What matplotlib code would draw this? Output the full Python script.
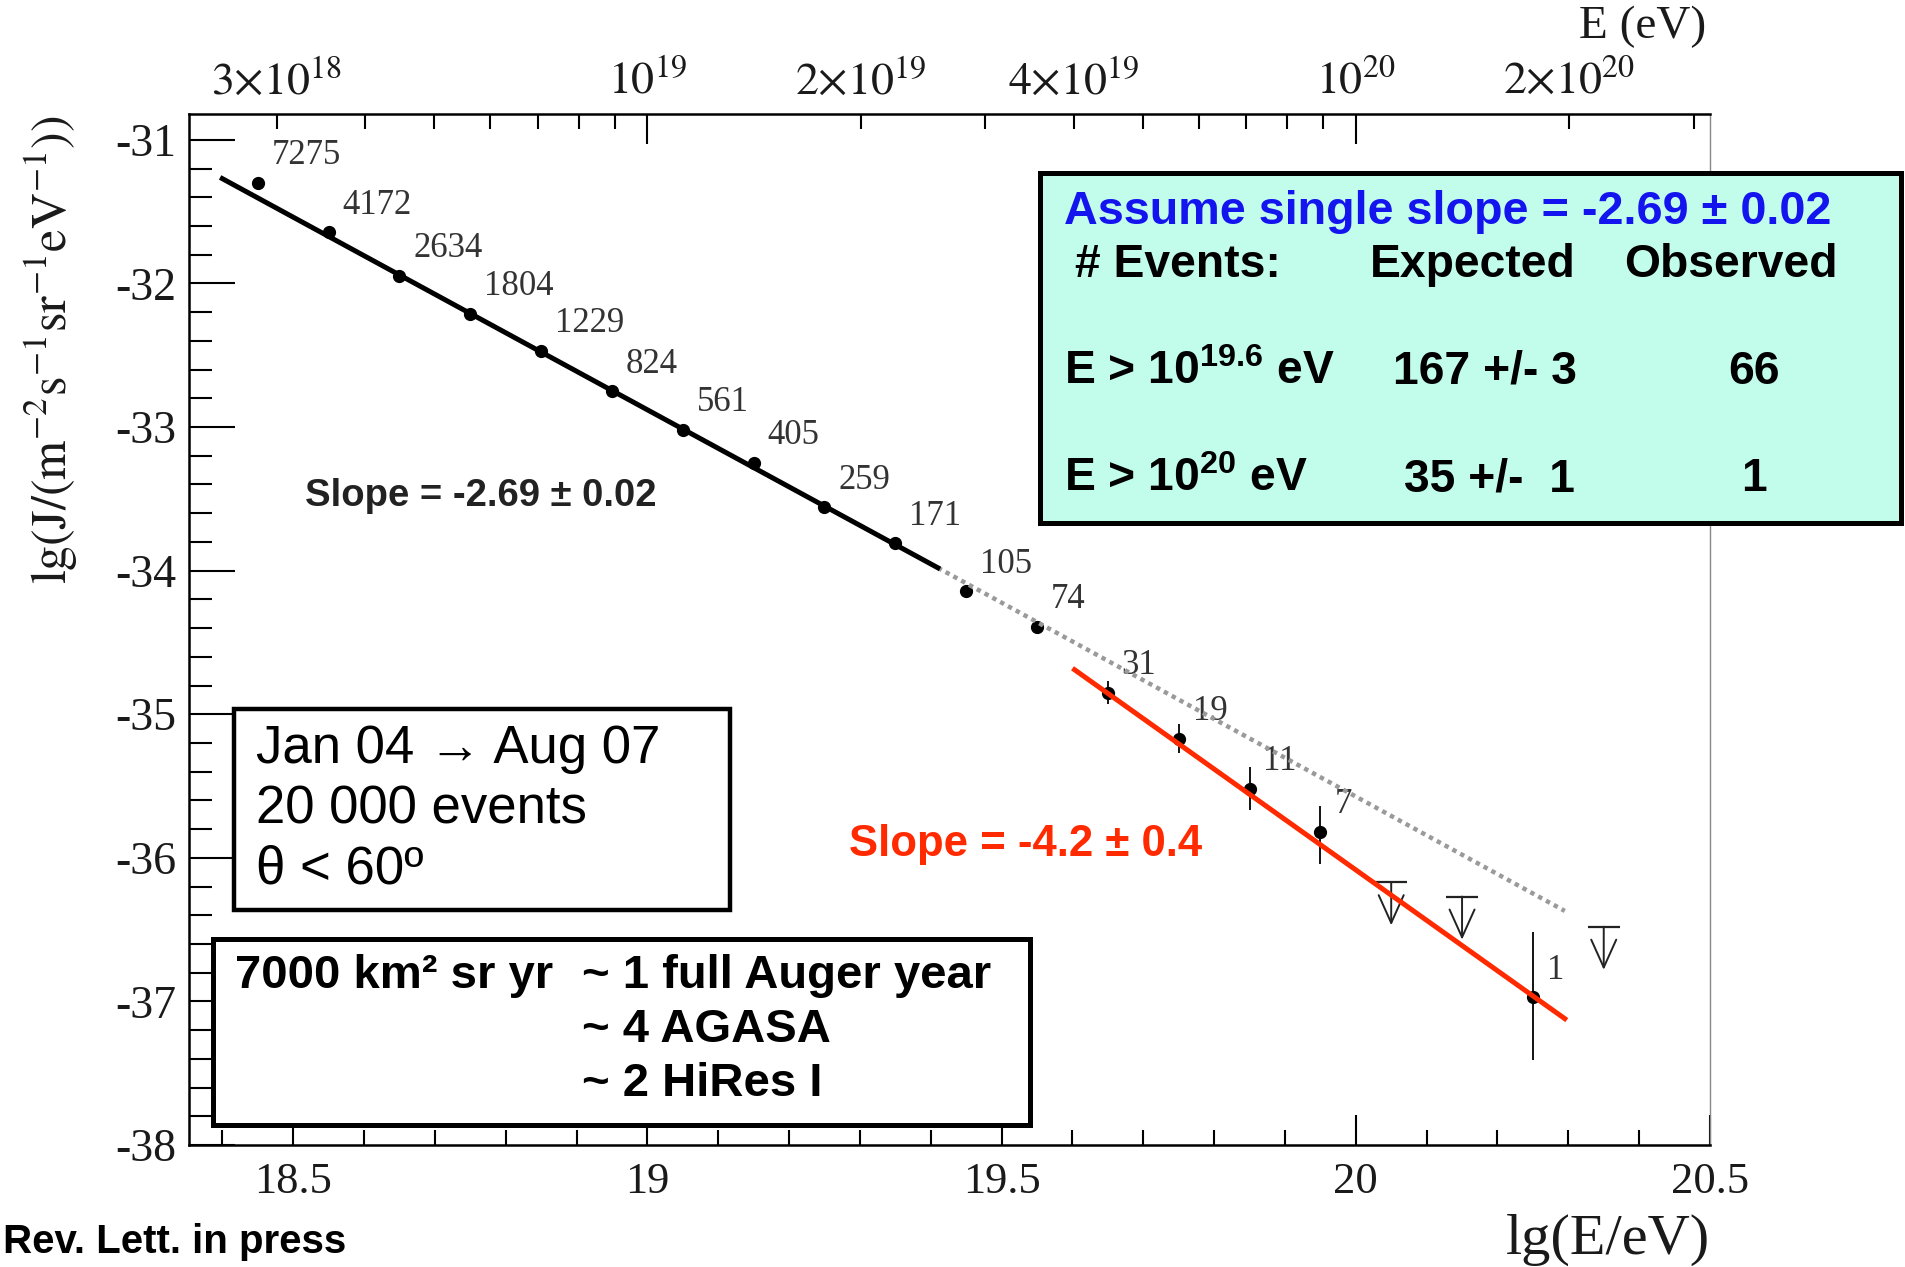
import numpy as np
import matplotlib
matplotlib.use('Agg')
import matplotlib.pyplot as plt
from matplotlib.patches import Rectangle

plt.rcParams['font.family'] = ['Liberation Serif', 'DejaVu Serif']
plt.rcParams['mathtext.fontset'] = 'stix'
plt.rcParams['mathtext.rm'] = 'Liberation Sans:bold'
plt.rcParams['mathtext.bf'] = 'Liberation Sans:bold'
plt.rcParams['mathtext.it'] = 'Liberation Sans:bold'
plt.rcParams['axes.unicode_minus'] = False

# spectrum points, lg(E/eV) vs lg(J)
lgE = [18.45, 18.55, 18.65, 18.75, 18.85, 18.95, 19.05, 19.15, 19.25, 19.35,
       19.45, 19.55, 19.65, 19.75, 19.85, 19.95, 20.25]
lgJ = [-31.30, -31.645, -31.945, -32.21, -32.47, -32.75, -33.02, -33.25, -33.56, -33.81,
       -34.145, -34.39, -34.85, -35.17, -35.52, -35.82, -36.97]
err_lo = [0, 0, 0, 0, 0, 0, 0, 0, 0, 0, 0, 0, 0.08, 0.10, 0.15, 0.22, 0.44]
err_hi = [0, 0, 0, 0, 0, 0, 0, 0, 0, 0, 0, 0, 0.08, 0.10, 0.15, 0.18, 0.45]
nev = ['7275', '4172', '2634', '1804', '1229', '824', '561', '405', '259', '171',
       '105', '74', '31', '19', '11', '7', '1']

# upper limits
ul_lgE = [20.05, 20.15, 20.35]
ul_lgJ = [-36.17, -36.27, -36.48]
ul_len = 0.30

# fits
fit1_x = [18.40, 19.41]
fit1_y = [-31.27, -33.98]
ext_x = [19.41, 20.295]
ext_y = [-33.98, -36.37]
fit2_x = [19.603, 20.295]
fit2_y = [-34.69, -37.12]

# top energy axis
top_major = [1e19, 1e20]
top_major_lab = [r'$10^{19}$', r'$10^{20}$']
top_minor = [3e18, 4e18, 5e18, 6e18, 7e18, 8e18, 9e18,
             2e19, 3e19, 4e19, 5e19, 6e19, 7e19, 8e19, 9e19, 2e20, 3e20]
top_minor_lab = [r'$3{\times}10^{18}$', '', '', '', '', '', '',
                 r'$2{\times}10^{19}$', '', r'$4{\times}10^{19}$', '', '', '', '', '',
                 r'$2{\times}10^{20}$', '']

tab_head = ['# Events:', 'Expected', 'Observed']
tab_rows = [[r'E > 10$^{\mathbf{19.6}}$ eV', '167 +/- 3', '66'],
            [r'E > 10$^{\mathbf{20}}$ eV', '35 +/-  1', '1']]

sans = ['Liberation Sans', 'DejaVu Sans']
tcol = '#1a1a1a'

fig = plt.figure(figsize=(19.06, 12.67), dpi=100)
ax = fig.add_axes([189/1906, 1-1145/1267, (1710-189)/1906, (1145-114)/1267])

ax.plot(ext_x, ext_y, color='#9a9a9a', lw=3.2, ls=(0, (1, 1)), zorder=4)
ax.plot(fit1_x, fit1_y, color='black', lw=3.6, zorder=4)
ax.plot(fit2_x, fit2_y, color='#ff2a00', lw=3.6, zorder=4)
ax.errorbar(lgE, lgJ, yerr=[err_lo, err_hi], fmt='o', color='black', ms=8.5,
            elinewidth=1.3, capsize=0, zorder=3)
for x, y, n in zip(lgE, lgJ, nev):
    ax.annotate(n, (x, y), xytext=(10, 19.5), textcoords='offset points',
                ha='left', va='center', fontsize=25, color='#333333', zorder=2)
ax.plot(ul_lgE, ul_lgJ, ls='none', marker='_', ms=23, mew=1.6, color='#222222', zorder=3)
for x, y in zip(ul_lgE, ul_lgJ):
    ax.annotate('', xy=(x, y-ul_len), xytext=(x, y),
                arrowprops=dict(arrowstyle='->,head_length=2.0,head_width=0.9',
                                color='#222222', lw=1.4, shrinkA=0, shrinkB=0))

ax.text(18.517, -33.48, 'Slope = -2.69 \u00b1 0.02', family=sans, weight='bold',
        fontsize=27.5, color='#222222', va='center', ha='left')
ax.text(19.285, -35.91, 'Slope = -4.2 \u00b1 0.4', family=sans, weight='bold',
        fontsize=31.5, color='#ff2a00', va='center', ha='left')

ax.set_xlim(18.353, 20.5)
ax.set_ylim(-38, -30.82)
ax.set_xticks([18.5, 19, 19.5, 20, 20.5], labels=['18.5', '19', '19.5', '20', '20.5'])
ax.set_xticks(np.arange(18.4, 20.45, 0.1), minor=True)
ax.set_yticks(np.arange(-38, -30.5, 1), labels=['-38', '-37', '-36', '-35', '-34', '-33', '-32', '-31'])
ax.set_yticks(np.arange(-37.8, -30.9, 0.2), minor=True)
ax.tick_params(axis='x', which='major', direction='in', length=21.6, width=1.5,
               labelsize=32, pad=12, labelcolor=tcol, top=False)
ax.tick_params(axis='x', which='minor', direction='in', length=10.8, width=1.5, top=False)
ax.tick_params(axis='y', which='major', direction='in', length=33, width=1.5,
               labelsize=33, pad=9, labelcolor=tcol, right=False)
ax.tick_params(axis='y', which='minor', direction='in', length=16.5, width=1.5, right=False)
for s in ['left', 'bottom']:
    ax.spines[s].set_linewidth(1.8)
ax.spines['top'].set_visible(False)
ax.spines['right'].set_color('#888888')
ax.spines['right'].set_linewidth(1.0)

ax2 = ax.twiny()
ax2.set_xlim(ax.get_xlim())
ax2.set_xticks(np.log10(top_major), labels=top_major_lab)
ax2.set_xticks(np.log10(top_minor), labels=top_minor_lab, minor=True)
ax2.tick_params(axis='x', which='major', direction='in', length=21.6, width=1.5,
                labelsize=33, pad=8, labelcolor=tcol)
ax2.tick_params(axis='x', which='minor', direction='in', length=10.8, width=1.5,
                labelsize=33, pad=8, labelcolor=tcol)
for s in ['left', 'right', 'bottom']:
    ax2.spines[s].set_visible(False)
ax2.spines['top'].set_linewidth(1.8)

fig.text(0.862, 0.9787, 'E (eV)', fontsize=34, ha='center', va='center', color=tcol)
fig.text(0.897, 0.0213, 'lg(E/eV)', fontsize=42, ha='right', va='center', color=tcol)
fig.text(0.027, 0.724, r'$\mathrm{lg(J/(m^{-2}s^{-1}sr^{-1}eV^{-1}))}$', fontsize=36,
         rotation=90, ha='center', va='center', color=tcol)

# info box top right
fig.add_artist(Rectangle((1040/1906, 1-523/1267), (1901-1040)/1906, (523-173)/1267,
                         transform=fig.transFigure, facecolor='#c2fdec', edgecolor='black',
                         lw=3.6, zorder=5))
fig.text(1064/1906, 1-212/1267, 'Assume single slope = -2.69 \u00b1 0.02', family=sans,
         weight='bold', fontsize=33.7, color='#1414ee', va='center', ha='left', zorder=6)
for txt, xp in zip(tab_head, [1075, 1370, 1624]):
    fig.text(xp/1906, 1-265/1267, txt, family=sans, weight='bold', fontsize=33.3,
             va='center', ha='left', zorder=6)
for row, yp in zip(tab_rows, [372, 479]):
    fig.text(1064/1906, 1-yp/1267, row[0], family=sans, weight='bold', fontsize=33.3,
             va='center', ha='left', math_fontfamily='custom', zorder=6)
    fig.text((1393 if yp == 372 else 1404)/1906, 1-yp/1267, row[1], family=sans,
             weight='bold', fontsize=33.3, va='center', ha='left', zorder=6)
    fig.text(1754/1906, 1-yp/1267, row[2], family=sans, weight='bold', fontsize=33.3,
             va='center', ha='center', zorder=6)

# data-period box
fig.add_artist(Rectangle((233.6/1906, 1-910/1267), (729.6-233.6)/1906, (910-709)/1267,
                         transform=fig.transFigure, facecolor='white', edgecolor='black',
                         lw=3.2, zorder=5))
for txt, yp in zip(['Jan 04 \u2192 Aug 07', '20 000 events', '\u03b8 < 60\u00ba'], [749, 809, 869]):
    fig.text(256/1906, 1-yp/1267, txt, family=sans, fontsize=38, va='center', ha='left', zorder=6)

# exposure box
fig.add_artist(Rectangle((212.6/1906, 1-1125/1267), (1030-212.6)/1906, (1125-939)/1267,
                         transform=fig.transFigure, facecolor='white', edgecolor='black',
                         lw=3.6, zorder=5))
fig.text(235/1906, 1-976/1267, '7000 km\u00b2 sr yr', family=sans, weight='bold', fontsize=34,
         va='center', ha='left', zorder=6)
for txt, yp in zip(['~ 1 full Auger year', '~ 4 AGASA', '~ 2 HiRes I'], [976, 1030, 1084]):
    fig.text(582/1906, 1-yp/1267, txt, family=sans, weight='bold', fontsize=34,
             va='center', ha='left', zorder=6)

fig.text(3/1906, 1-1242/1267, 'Rev. Lett. in press', family=sans, weight='bold',
         fontsize=29, va='center', ha='left')

fig.savefig('out.png', dpi=100)
